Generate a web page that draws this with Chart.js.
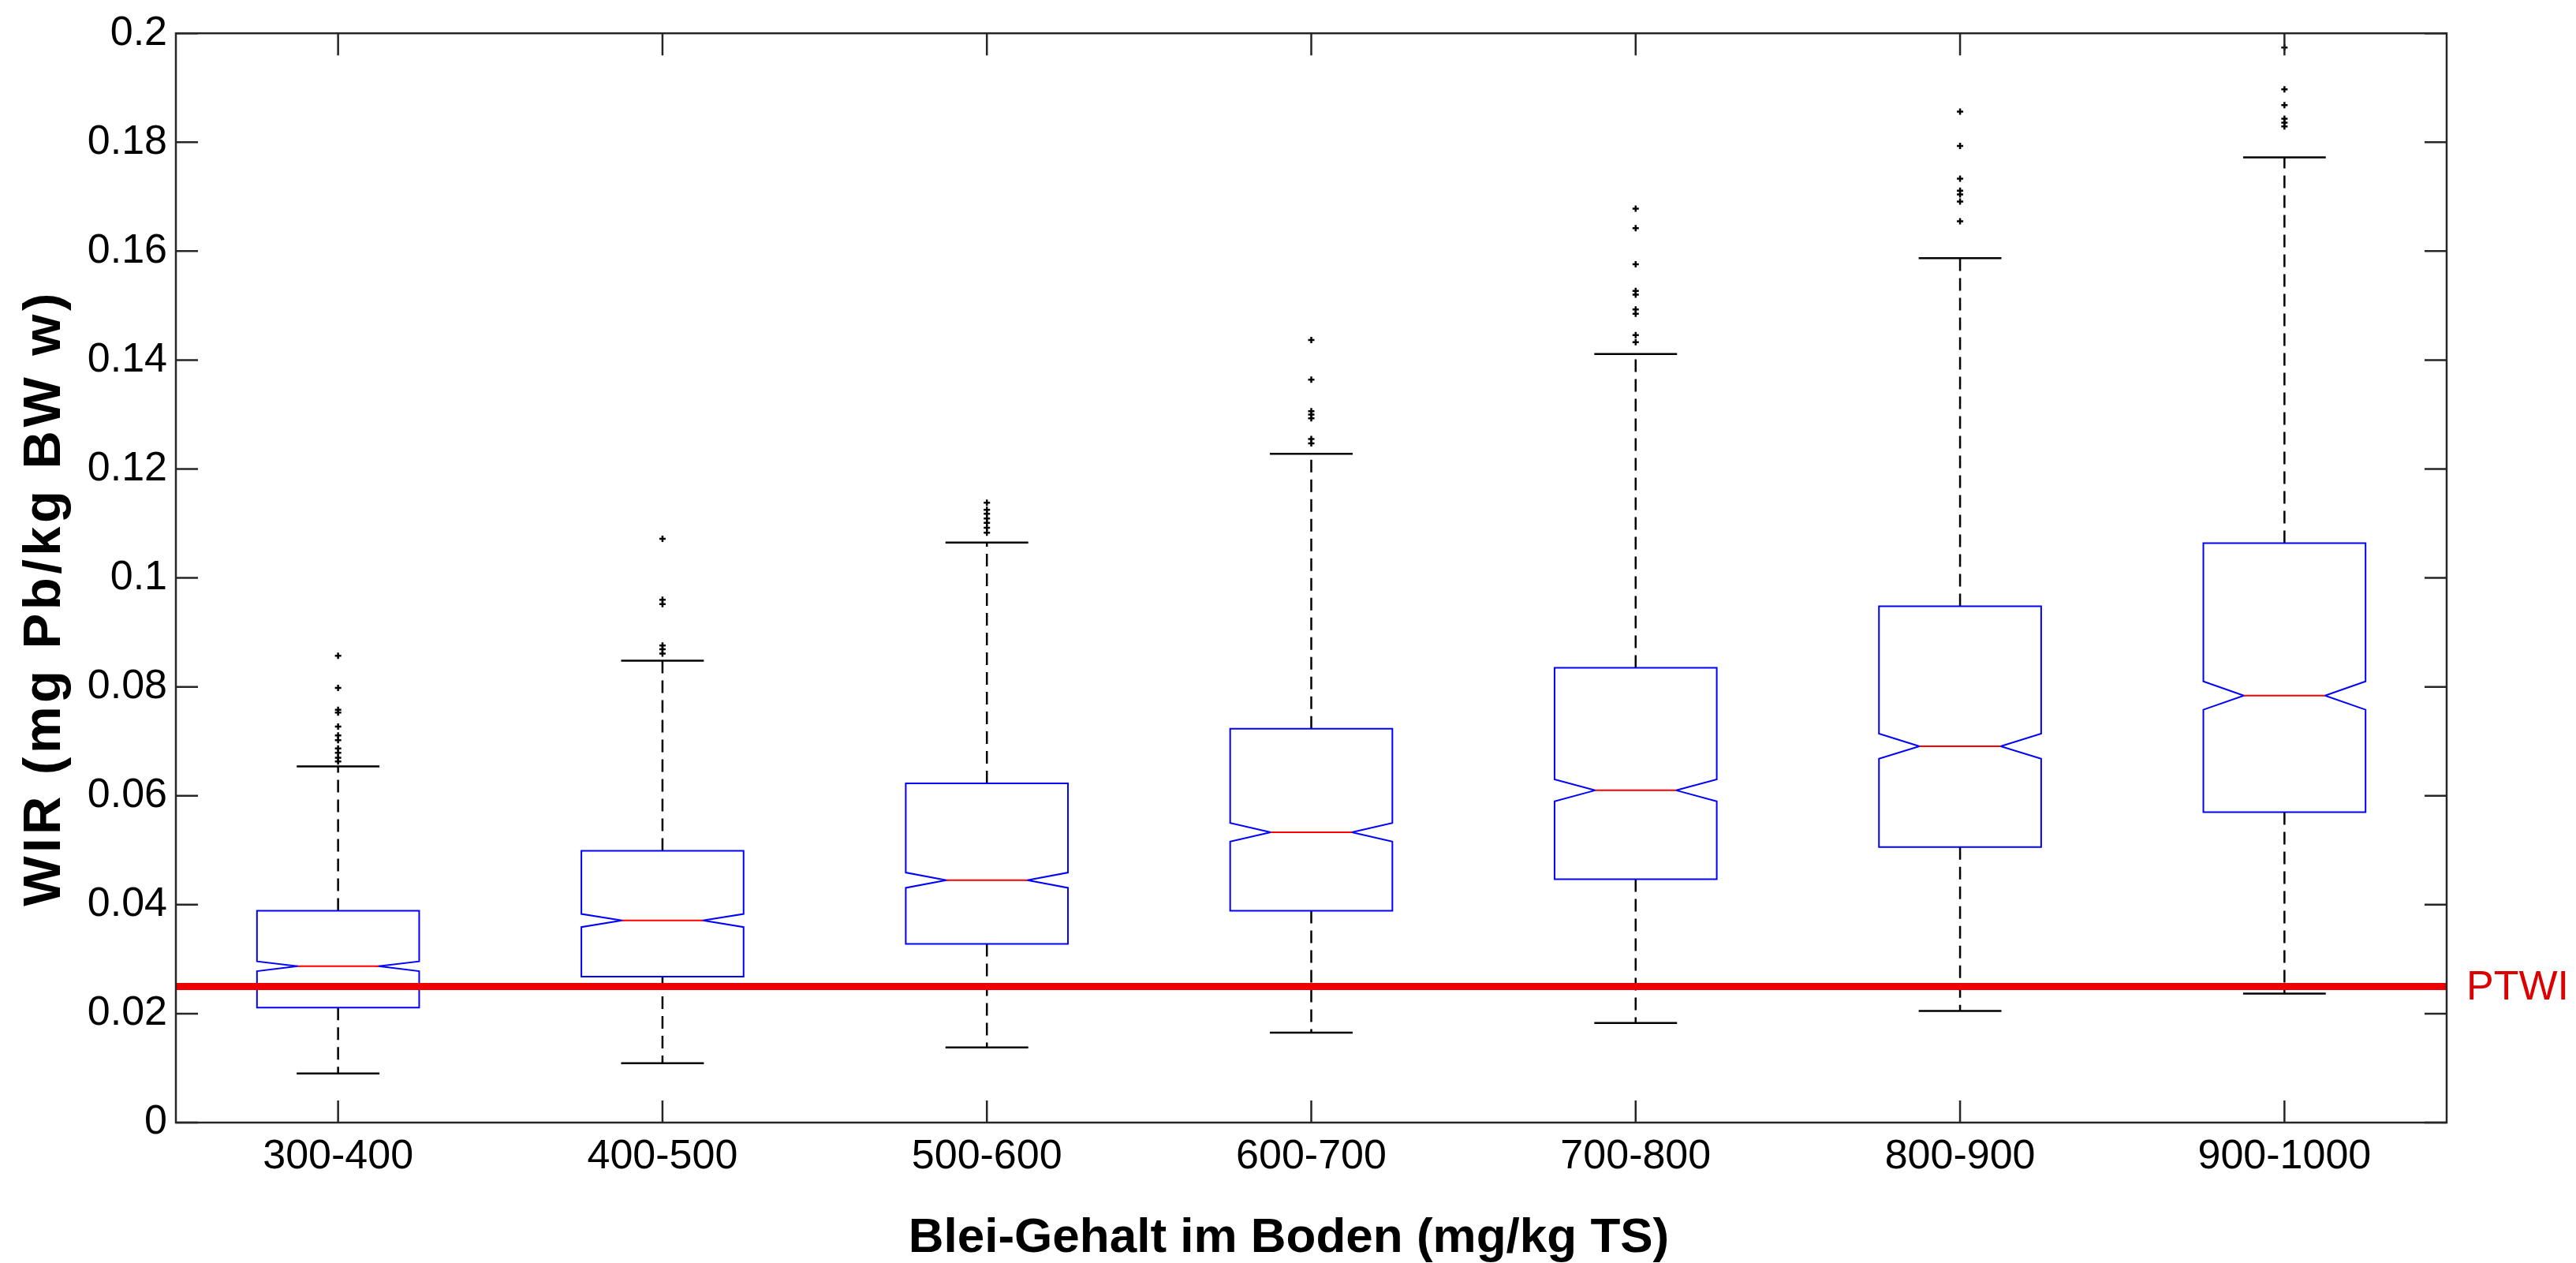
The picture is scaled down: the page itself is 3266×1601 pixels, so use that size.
<!DOCTYPE html>
<html>
<head>
<meta charset="utf-8">
<script src="https://cdn.jsdelivr.net/npm/chart.js@4/dist/chart.umd.min.js"></script>
<style>
  html, body { margin: 0; padding: 0; background: #ffffff; }
  #c { display: block; }
</style>
</head>
<body>
<canvas id="c" width="3266" height="1601" style="width:3266px;height:1601px"></canvas>
<script>
// ---- data ----
const categories = ['300-400', '400-500', '500-600', '600-700', '700-800', '800-900', '900-1000'];
const whiskerLow  = [0.0090, 0.0109, 0.0138, 0.0165, 0.0183, 0.0205, 0.0237];
const q1          = [0.0211, 0.0268, 0.0328, 0.0389, 0.0447, 0.0506, 0.0570];
const median      = [0.0287, 0.0371, 0.0445, 0.0533, 0.0610, 0.0691, 0.0784];
const q3          = [0.0389, 0.0499, 0.0623, 0.0723, 0.0835, 0.0948, 0.1064];
const whiskerHigh = [0.0654, 0.0848, 0.1065, 0.1228, 0.1411, 0.1587, 0.1772];
const notchHalf   = [0.0009, 0.0012, 0.0014, 0.0017, 0.0020, 0.0023, 0.0026];
const outliers1 = [0.0857, 0.0798, 0.0758, 0.0753, 0.0727, 0.0711, 0.0702, 0.0687, 0.0679, 0.0670, 0.0663];
const outliers2 = [0.1072, 0.0960, 0.0952, 0.0876, 0.0869, 0.0861];
const outliers3 = [0.1138, 0.1125, 0.1118, 0.1109, 0.1101, 0.1092, 0.1083];
const outliers4 = [0.1437, 0.1364, 0.1306, 0.1300, 0.1293, 0.1255, 0.1247];
const outliers5 = [0.1678, 0.1642, 0.1576, 0.1527, 0.1520, 0.1493, 0.1485, 0.1446, 0.1433];
const outliers6 = [0.1856, 0.1793, 0.1733, 0.1711, 0.1704, 0.1691, 0.1655];
const outliers7 = [0.1974, 0.1897, 0.1868, 0.1843, 0.1836, 0.1829];
const yTicks      = [0, 0.02, 0.04, 0.06, 0.08, 0.1, 0.12, 0.14, 0.16, 0.18, 0.2];
const yTickLabels = ['0', '0.02', '0.04', '0.06', '0.08', '0.1', '0.12', '0.14', '0.16', '0.18', '0.2'];
const ptwiValue = 0.025;
const ptwiLabel = 'PTWI';
const xTitle = 'Blei-Gehalt im Boden (mg/kg TS)';
const yTitle = 'WIR (mg Pb/kg BW w)';

const allOutliers = [outliers1, outliers2, outliers3, outliers4, outliers5, outliers6, outliers7];
const outlierPoints = [];
allOutliers.forEach((arr, i) => arr.forEach(v => outlierPoints.push({ x: categories[i], y: v })));

const FONT = "'Liberation Sans', Arial, Helvetica, sans-serif";
const W = 3266, H = 1601;
const PLOT = { left: 223, top: 32, right: 3102, bottom: 1423 };

const boxPlugin = {
  id: 'boxPlugin',
  beforeDatasetsDraw(chart) {
    const ctx = chart.ctx;
    const xs = chart.scales.x, ys = chart.scales.y;
    const bin = xs.getPixelForValue(1) - xs.getPixelForValue(0);
    const bw = bin * 0.5;
    const capW = bin * 0.255;
    ctx.save();
    for (let i = 0; i < categories.length; i++) {
      const cx = xs.getPixelForValue(i);
      const x0 = cx - bw / 2, x1 = cx + bw / 2;
      const inset = bw * 0.25;
      const yq1 = ys.getPixelForValue(q1[i]);
      const yq3 = ys.getPixelForValue(q3[i]);
      const ym = ys.getPixelForValue(median[i]);
      const yhi = ys.getPixelForValue(median[i] + notchHalf[i]);
      const ylo = ys.getPixelForValue(median[i] - notchHalf[i]);
      const ywl = ys.getPixelForValue(whiskerLow[i]);
      const ywh = ys.getPixelForValue(whiskerHigh[i]);
      // whiskers (dashed)
      ctx.strokeStyle = '#000000';
      ctx.lineWidth = 2.5;
      ctx.setLineDash([16, 9]);
      ctx.beginPath();
      ctx.moveTo(cx, yq3); ctx.lineTo(cx, ywh);
      ctx.moveTo(cx, yq1); ctx.lineTo(cx, ywl);
      ctx.stroke();
      ctx.setLineDash([]);
      // caps
      ctx.lineWidth = 2.5;
      ctx.beginPath();
      ctx.moveTo(cx - capW / 2, ywh); ctx.lineTo(cx + capW / 2, ywh);
      ctx.moveTo(cx - capW / 2, ywl); ctx.lineTo(cx + capW / 2, ywl);
      ctx.stroke();
      // notched box
      ctx.strokeStyle = '#0000ff';
      ctx.lineWidth = 2;
      ctx.beginPath();
      ctx.moveTo(x0, yq3);
      ctx.lineTo(x1, yq3);
      ctx.lineTo(x1, yhi);
      ctx.lineTo(x1 - inset, ym);
      ctx.lineTo(x1, ylo);
      ctx.lineTo(x1, yq1);
      ctx.lineTo(x0, yq1);
      ctx.lineTo(x0, ylo);
      ctx.lineTo(x0 + inset, ym);
      ctx.lineTo(x0, yhi);
      ctx.closePath();
      ctx.stroke();
      // median
      ctx.strokeStyle = '#ff0000';
      ctx.lineWidth = 2;
      ctx.beginPath();
      ctx.moveTo(x0 + inset, ym); ctx.lineTo(x1 - inset, ym);
      ctx.stroke();
    }
    ctx.restore();
  },
  afterDatasetsDraw(chart) {
    const ctx = chart.ctx;
    const a = chart.chartArea;
    const xs = chart.scales.x, ys = chart.scales.y;
    ctx.save();
    // PTWI line
    const yp = ys.getPixelForValue(ptwiValue);
    ctx.strokeStyle = '#ee0000';
    ctx.lineWidth = 9;
    ctx.beginPath();
    ctx.moveTo(a.left, yp); ctx.lineTo(a.right, yp);
    ctx.stroke();
    ctx.fillStyle = '#dd0000';
    ctx.font = '52px ' + FONT;
    ctx.textAlign = 'left';
    ctx.textBaseline = 'middle';
    ctx.fillText(ptwiLabel, a.right + 25, yp + 2);
    // frame
    ctx.strokeStyle = '#262626';
    ctx.lineWidth = 2.5;
    ctx.strokeRect(a.left, a.top, a.right - a.left, a.bottom - a.top);
    // inward ticks
    const tl = 28;
    ctx.beginPath();
    yTicks.forEach(v => {
      const y = ys.getPixelForValue(v);
      ctx.moveTo(a.left, y); ctx.lineTo(a.left + tl, y);
      ctx.moveTo(a.right, y); ctx.lineTo(a.right - tl, y);
    });
    categories.forEach((c, i) => {
      const x = xs.getPixelForValue(i);
      ctx.moveTo(x, a.bottom); ctx.lineTo(x, a.bottom - tl);
      ctx.moveTo(x, a.top); ctx.lineTo(x, a.top + tl);
    });
    ctx.stroke();
    ctx.restore();
  },
  afterDraw(chart) {
    const ctx = chart.ctx;
    ctx.save();
    ctx.fillStyle = '#000000';
    ctx.textAlign = 'center';
    ctx.textBaseline = 'middle';
    // x-axis title
    ctx.font = 'bold 62px ' + FONT;
    ctx.fillText(xTitle, 1634, 1570);
    // y-axis title (rotated)
    ctx.translate(58, 760);
    ctx.rotate(-Math.PI / 2);
    ctx.font = 'bold 67px ' + FONT;
    if ('letterSpacing' in ctx) ctx.letterSpacing = '4.5px';
    ctx.fillText(yTitle, 2, 0);
    ctx.restore();
  }
};

const chart = new Chart(document.getElementById('c'), {
  type: 'scatter',
  data: {
    labels: categories,
    datasets: [{
      data: outlierPoints,
      pointStyle: 'cross',
      pointRadius: 4,
      pointBorderWidth: 2.5,
      borderColor: '#000000',
      backgroundColor: '#000000'
    }]
  },
  options: {
    responsive: false,
    animation: false,
    devicePixelRatio: 1,
    layout: { padding: { left: 0, top: PLOT.top, right: W - PLOT.right, bottom: 0 } },
    plugins: { legend: { display: false }, tooltip: { enabled: false } },
    scales: {
      x: {
        type: 'category',
        labels: categories,
        offset: true,
        grid: { display: false, drawTicks: false },
        border: { display: false },
        ticks: { color: '#000000', font: { family: FONT, size: 52 }, padding: 12, maxRotation: 0, autoSkip: false },
        title: { display: false },
        afterFit(s) { s.height = H - PLOT.bottom; }
      },
      y: {
        type: 'linear',
        min: 0, max: 0.2,
        grid: { display: false, drawTicks: false },
        border: { display: false },
        afterBuildTicks(s) { s.ticks = yTicks.map(v => ({ value: v })); },
        ticks: {
          color: '#000000', font: { family: FONT, size: 52 }, padding: 11,
          callback: (v, i) => yTickLabels[i]
        },
        title: { display: false },
        afterFit(s) { s.width = PLOT.left; }
      }
    }
  },
  plugins: [boxPlugin]
});
</script>
</body>
</html>
